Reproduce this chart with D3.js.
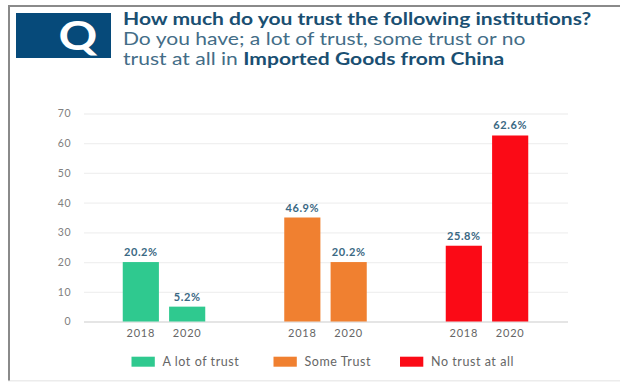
<!DOCTYPE html>
<html><head><meta charset="utf-8">
<script src="https://cdn.jsdelivr.net/npm/d3@7/dist/d3.min.js"></script>
<style>html,body{margin:0;padding:0;background:#fff}svg{display:block}text{font-family:Lato,"Open Sans",sans-serif}</style>
</head><body><svg id="c" width="627" height="385"></svg>
<script>
const groups = ["A lot of trust", "Some Trust", "No trust at all"];
const years = ["2018", "2020"];
const barHeights = [[20, 5], [35, 20], [25.5, 62.6]];
const barLabels = [["20.2%", "5.2%"], ["46.9%", "20.2%"], ["25.8%", "62.6%"]];
const colors = ["#2fc98f", "#f08030", "#fb0a16"];
const yTicks = [0, 10, 20, 30, 40, 50, 60, 70];
const titleLines = [
  [["How much do you trust the following institutions?", 700]],
  [["Do you have; a lot of trust, some trust or no", 400]],
  [["trust at all in ", 400], ["Imported Goods from China", 700]]
];

const svg = d3.select("#c");

// Page frame: left and top rules, pale bottom rule
svg.append("line").attr("x1", 8).attr("x2", 620).attr("y1", 380.7).attr("y2", 380.7).attr("stroke", "#ececec").attr("stroke-width", 1.5);
svg.append("path").attr("d", "M9 380.5V6H620").attr("fill", "none").attr("stroke", "#8a8a8a").attr("stroke-width", 2);

// Q badge
svg.append("rect").attr("x", 16).attr("y", 13).attr("width", 95).attr("height", 45).attr("fill", "#064a7a");
svg.append("text").attr("transform", "translate(78,50) scale(1.2,1)").attr("text-anchor", "middle")
  .attr("font-size", 40).attr("font-weight", 700).attr("fill", "#fff").text("Q");

// Title, stretched horizontally as in the reference
const title = svg.append("g").attr("transform", "translate(123,0) scale(1.24,1)").append("text").attr("font-size", 17);
titleLines.forEach((line, i) => {
  const t = title.append("tspan").attr("x", 0).attr("y", 25 + i * 20.2);
  line.forEach(([s, w]) => t.append("tspan").attr("font-weight", w).attr("fill", w === 700 ? "#1a4f72" : "#436d87").text(s));
});

const y = d3.scaleLinear().domain([0, 70]).range([321.5, 113.5]);
const x0 = d3.scaleBand().domain(groups).range([83.25, 567.75]);
const clusterW = 82.5;
const x1 = d3.scaleBand().domain(years).range([0, clusterW]).paddingInner(0.22);

const yAxis = svg.append("g").attr("transform", "translate(84,0)")
  .call(d3.axisLeft(y).tickValues(yTicks).tickSizeOuter(0).tickSizeInner(-484).tickPadding(13));
yAxis.select(".domain").remove();
yAxis.selectAll("line").attr("stroke", d => d === 0 ? "#dcdcdc" : "#f0f0f0").attr("stroke-width", 1.3);
yAxis.selectAll("text").attr("font-size", 10.5).attr("fill", "#808080").attr("letter-spacing", 0.5);

groups.forEach((g, gi) => {
  const grp = svg.append("g").attr("transform", `translate(${x0(g) + (x0.bandwidth() - clusterW) / 2},0)`);
  years.forEach((yr, i) => {
    const v = barHeights[gi][i];
    const cx = x1(yr) + x1.bandwidth() / 2;
    grp.append("rect").attr("x", x1(yr)).attr("y", y(v)).attr("width", x1.bandwidth()).attr("height", y(0) - y(v)).attr("fill", colors[gi]);
    grp.append("text").attr("x", cx).attr("y", y(v) - 6).attr("text-anchor", "middle")
      .attr("font-size", 11).attr("font-weight", 700).attr("letter-spacing", 0.6).attr("fill", "#3a6883").text(barLabels[gi][i]);
    grp.append("text").attr("x", cx).attr("y", 337).attr("text-anchor", "middle")
      .attr("font-size", 11).attr("letter-spacing", 0.8).attr("fill", "#666").text(yr);
  });
});

const legendX = [131.5, 273.5, 400];
groups.forEach((g, i) => {
  svg.append("rect").attr("x", legendX[i]).attr("y", 356.7).attr("width", 23.3).attr("height", 10).attr("fill", colors[i]);
  svg.append("text").attr("x", legendX[i] + 31).attr("y", 365.7).attr("font-size", 12.5).attr("letter-spacing", 0.55).attr("fill", "#666").text(g);
});
</script></body></html>
